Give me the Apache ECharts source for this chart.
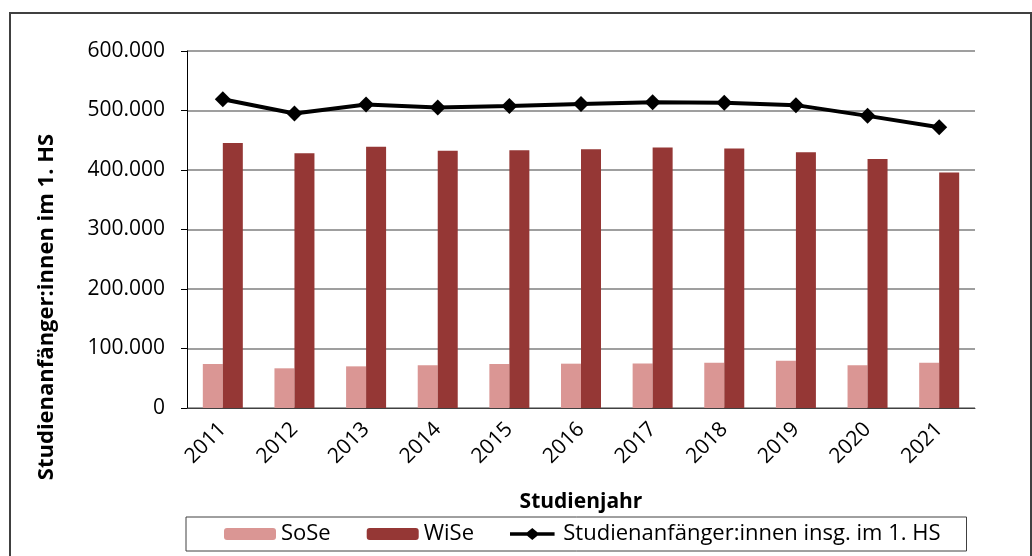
<!DOCTYPE html>
<html>
<head>
<meta charset="utf-8">
<script src="https://cdn.jsdelivr.net/npm/echarts@6/dist/echarts.min.js"></script>
<style>
  html, body { margin: 0; padding: 0; background: #fff; }
  #chart-container { width: 1032px; height: 556px; }
</style>
</head>
<body>
<div id="chart-container"></div>
<script>
const years = ["2011", "2012", "2013", "2014", "2015", "2016", "2017", "2018", "2019", "2020", "2021"];
const sose = [74000, 66700, 70000, 72000, 74000, 74500, 75000, 76000, 79500, 72000, 76000];
const wise = [445500, 428000, 439000, 432500, 433000, 435000, 438000, 436000, 430000, 418500, 396000];
const total = [518800, 495000, 510000, 505000, 507500, 511000, 514000, 513000, 509000, 491000, 472000];
const yTicks = [0, 100000, 200000, 300000, 400000, 500000, 600000];

const font = "'Open Sans', 'Noto Sans', sans-serif";

const dom = document.getElementById("chart-container");
const myChart = echarts.init(dom, null, { renderer: "canvas" });

// German thousands separator: 600000 -> 600.000
const fmt = (v) => String(v).replace(/\B(?=(\d{3})+(?!\d))/g, ".");

// legend icon: thick line with a diamond in the middle
const lineIcon = "path://M0,4 L20,4 L26,-1 L32,4 L52,4 L52,8 L32,8 L26,13 L20,8 L0,8 Z";

var option = {
  animation: false,
  textStyle: { fontFamily: font, color: "#000" },
  grid: { left: 187, right: 57, top: 51, bottom: 148 },
  graphic: [
    {
      type: "rect",
      shape: { x: 10, y: 13, width: 1021, height: 580 },
      style: { fill: null, stroke: "#404040", lineWidth: 2 },
      silent: true,
    },
    {
      type: "text",
      x: 47,
      y: 307,
      rotation: Math.PI / 2,
      style: {
        text: "Studienanfänger:innen im 1. HS",
        font: "bold 22px " + font,
        fill: "#000",
        textAlign: "center",
        textVerticalAlign: "middle",
      },
    },
  ],
  legend: {
    left: 186,
    top: 517,
    padding: [6, 26, 6, 38],
    borderColor: "#404040",
    borderWidth: 1,
    itemWidth: 52,
    itemHeight: 12,
    itemGap: 36,
    textStyle: { fontSize: 22, fontFamily: font, color: "#000" },
    data: [
      "SoSe",
      "WiSe",
      { name: "Studienanfänger:innen insg. im 1. HS", icon: lineIcon, itemStyle: { color: "#000", borderWidth: 0 } },
    ],
  },
  xAxis: {
    type: "category",
    data: years,
    name: "Studienjahr",
    nameLocation: "middle",
    nameGap: 84,
    nameTextStyle: { fontSize: 21, fontWeight: "bold", fontFamily: font, color: "#000" },
    axisLine: { lineStyle: { color: "#404040", width: 1 } },
    axisTick: { length: 7, lineStyle: { color: "#404040" } },
    axisLabel: { rotate: 45, margin: 18, fontSize: 21, fontFamily: font, color: "#000" },
  },
  yAxis: {
    type: "value",
    min: 0,
    max: 600000,
    interval: 100000,
    axisLine: { show: true, lineStyle: { color: "#000", width: 1 } },
    axisTick: { show: true, length: 6, lineStyle: { color: "#000" } },
    axisLabel: {
      margin: 22,
      fontSize: 21,
      fontFamily: font,
      color: "#000",
      formatter: (v) => (yTicks.includes(v) ? fmt(v) : ""),
    },
    splitLine: { lineStyle: { color: "#7f7f7f", width: 1.5 } },
  },
  series: [
    {
      name: "SoSe",
      type: "bar",
      data: sose,
      barWidth: 20,
      barGap: "0%",
      itemStyle: { color: "#da9694" },
    },
    {
      name: "WiSe",
      type: "bar",
      data: wise,
      barWidth: 20,
      itemStyle: { color: "#953735" },
    },
    {
      name: "Studienanfänger:innen insg. im 1. HS",
      type: "line",
      data: total,
      symbol: "diamond",
      symbolSize: 16,
      lineStyle: { color: "#000", width: 4 },
      itemStyle: { color: "#000" },
      z: 5,
    },
  ],
};

myChart.setOption(option);
window.addEventListener("resize", myChart.resize);
</script>
</body>
</html>
